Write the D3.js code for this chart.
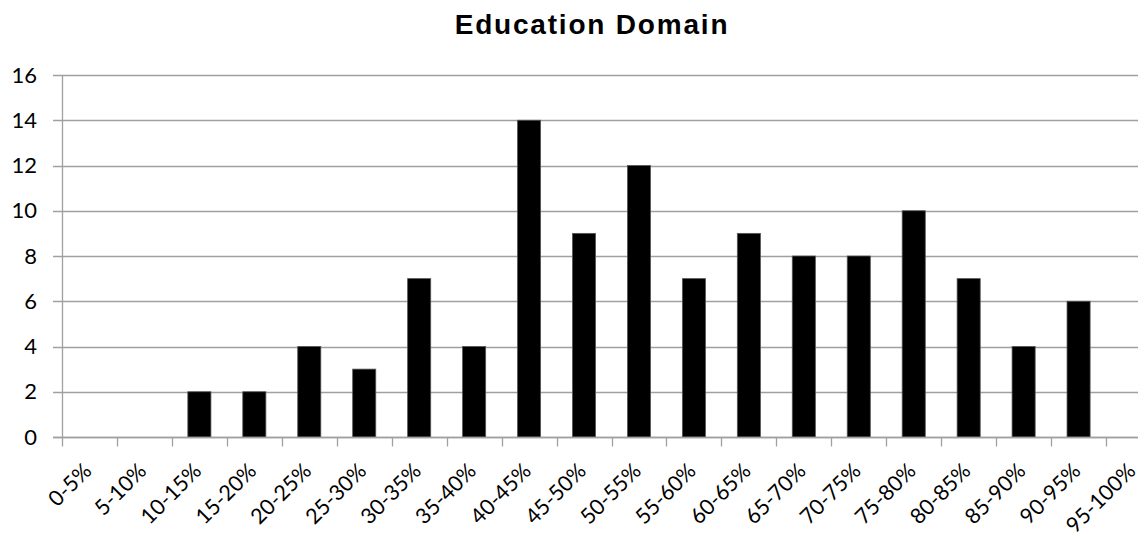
<!DOCTYPE html>
<html>
<head>
<meta charset="utf-8">
<script src="https://cdn.jsdelivr.net/npm/d3@7"></script>
<style>
  html, body { margin: 0; padding: 0; background: #fff; }
  svg { display: block; }
</style>
</head>
<body>
<svg id="chart" width="1144" height="538"></svg>
<script>
// Score bands and the number of entries falling in each band
const categories = ["0-5%", "5-10%", "10-15%", "15-20%", "20-25%", "25-30%", "30-35%", "35-40%",
  "40-45%", "45-50%", "50-55%", "55-60%", "60-65%", "65-70%", "70-75%", "75-80%",
  "80-85%", "85-90%", "90-95%", "95-100%"];
const counts = [0, 0, 2, 2, 4, 3, 7, 4, 14, 9, 12, 7, 9, 8, 8, 10, 7, 4, 6, 0];
const yTicks = [0, 2, 4, 6, 8, 10, 12, 14, 16];
const title = "Education Domain";

const svg = d3.select("#chart");
const plot = { left: 62, right: 1161, top: 75, bottom: 437, gridEnd: 1138 };
const labelFont = "Lato, 'Open Sans', sans-serif";
const gridColor = "#a0a0a0";

const x = d3.scaleBand()
  .domain(categories)
  .range([plot.left, plot.right])
  .paddingInner(0.58)
  .paddingOuter(0.29);

const y = d3.scaleLinear()
  .domain([0, 16])
  .range([plot.bottom, plot.top]);

// Title
svg.append("text")
  .attr("x", 592)
  .attr("y", 34)
  .attr("text-anchor", "middle")
  .attr("font-family", "Arial, 'Liberation Sans', sans-serif")
  .attr("font-weight", "bold")
  .attr("font-size", 28)
  .attr("letter-spacing", 1.8)
  .attr("fill", "#000")
  .text(title);

// Horizontal gridlines with outward tick stubs
svg.append("g")
  .selectAll("line")
  .data(yTicks)
  .join("line")
  .attr("x1", plot.left - 9)
  .attr("x2", plot.gridEnd)
  .attr("y1", d => Math.round(y(d)) + 0.5)
  .attr("y2", d => Math.round(y(d)) + 0.5)
  .attr("stroke", gridColor)
  .attr("stroke-width", 1.3);

// Y axis
const yAxis = svg.append("g")
  .attr("transform", `translate(${plot.left},0)`)
  .call(d3.axisLeft(y).tickValues(yTicks).tickSize(0).tickPadding(25));
yAxis.select(".domain").attr("stroke", gridColor).attr("stroke-width", 1.3);
yAxis.selectAll("text")
  .attr("font-family", labelFont)
  .attr("font-size", 22)
  .attr("fill", "#000");

// Bars
svg.append("g")
  .selectAll("rect")
  .data(categories.map((c, i) => ({ c, v: counts[i] })).filter(d => d.v > 0))
  .join("rect")
  .attr("x", d => x(d.c))
  .attr("width", x.bandwidth())
  .attr("y", d => y(d.v))
  .attr("height", d => y(0) - y(d.v))
  .attr("fill", "#000")
  .attr("stroke", "#555")
  .attr("stroke-width", 0.8);

// X axis: ticks at band boundaries, labels rotated
const xAxisG = svg.append("g").attr("transform", `translate(0,${Math.round(plot.bottom) + 0.5})`);
xAxisG.append("line")
  .attr("x1", plot.left - 9)
  .attr("x2", plot.gridEnd)
  .attr("stroke", gridColor)
  .attr("stroke-width", 1.3);

const step = x.step();
const boundaries = d3.range(categories.length).map(i => plot.left + i * step);
xAxisG.selectAll(".tick")
  .data(boundaries)
  .join("line")
  .attr("class", "tick")
  .attr("x1", d => Math.round(d) + 0.5)
  .attr("x2", d => Math.round(d) + 0.5)
  .attr("y1", 0)
  .attr("y2", 9)
  .attr("stroke", gridColor)
  .attr("stroke-width", 1.3);

xAxisG.selectAll(".label")
  .data(categories)
  .join("text")
  .attr("class", "label")
  .attr("transform", d => `translate(${x(d) + x.bandwidth() / 2 - 0.5},${31}) rotate(-45)`)
  .attr("text-anchor", "end")
  .attr("dominant-baseline", "middle")
  .attr("font-family", labelFont)
  .attr("font-size", 21.5)
  .attr("fill", "#000")
  .text(d => d);
</script>
</body>
</html>
